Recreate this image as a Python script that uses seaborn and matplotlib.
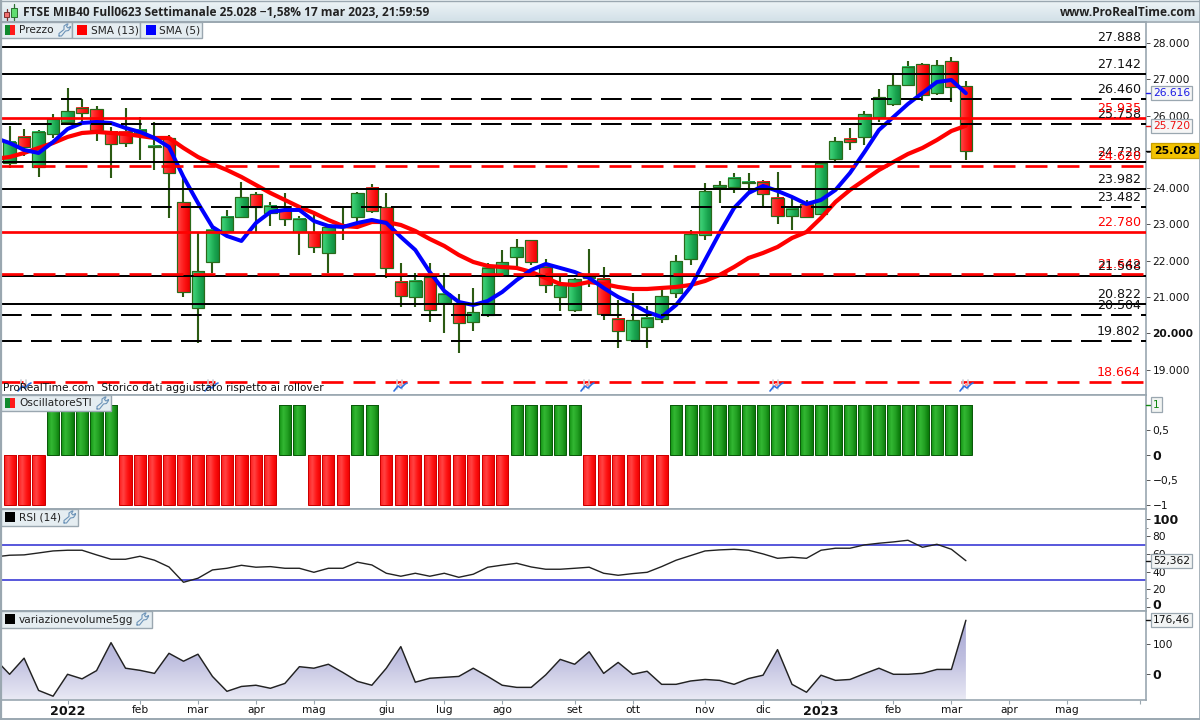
import numpy as np
import pandas as pd
import matplotlib
matplotlib.use("Agg")
import matplotlib.pyplot as plt
from matplotlib.colors import LinearSegmentedColormap as LSC
from matplotlib.transforms import ScaledTranslation
from matplotlib.patches import Rectangle
import seaborn as sns

# ---------------- data ----------------
open_ = [24694,25411,24584,25493,25824,26210,26182,25549,25549,25521,25135,25383,23620,20700,21967,22821,23207,23840,23317,23400,
         22793,22793,22215,22931,23207,24006,23482,21416,21003,21554,20838,20838,20314,20507,21609,22105,22573,21829,21003,20645,
         21526,21499,20397,19818,20176,20397,21113,22050,22711,24033,24033,24143,24171,23730,23234,23565,23289,24805,25356,25411,
         25962,26320,26843,27422,26623,27504,26816]
high = [25714,25631,25604,26044,26760,26458,26265,25686,26210,25962,25824,25466,24309,22766,23014,23400,24171,23895,23620,23868,
        23234,23262,22959,23482,23895,24116,23868,21939,21664,21939,21664,21086,21251,21939,22298,22600,22573,22050,21554,21526,
        22325,21829,20920,21113,20755,21196,22160,22849,24143,24199,24419,24419,24226,24446,23730,23675,24722,25411,25659,26127,
        26733,27119,27504,27449,27532,27615,26953]
low = [24557,24887,24309,25383,25824,25796,25300,24281,25135,24777,24501,23179,21003,19735,21664,22793,23179,22793,22959,22959,
       22160,22215,21664,22573,23069,23317,21526,20727,20727,20314,20011,19460,20066,20452,21554,21829,21884,21113,20617,20589,
       21278,20369,19598,19763,19598,20287,20975,21884,22573,23592,23868,23868,23482,23014,22849,23179,23262,24722,25053,25190,
       25824,26265,26816,26402,26568,26375,24777]
close = [25273,25135,25549,25907,26127,26072,25604,25218,25245,25604,25163,24419,21141,21719,22849,23207,23758,23482,23510,23152,
         23152,22380,22931,22959,23868,23372,21802,21030,21444,20645,21086,20287,20589,21802,21967,22380,21967,21333,21333,21499,
         21554,20534,20066,20369,20424,21030,21994,22738,23923,24088,24281,24171,23840,23234,23427,23207,24694,25300,25273,26044,
         26513,26843,27339,26568,27394,26788,25028]
sma5 = [25383,25245,25053,24970,25273,25631,25796,25824,25796,25659,25549,25383,25135,24309,23592,22931,22683,22546,23041,23344,
        23400,23400,23096,22959,22931,23041,23124,23041,22656,22298,21691,21168,20865,20782,20892,21141,21471,21747,21912,21802,
        21691,21526,21251,21003,20810,20589,20452,20782,21278,22022,22766,23455,23868,24061,23923,23758,23565,23675,23951,24419,
        24997,25604,25962,26320,26623,26926,26981,26616]
sma13 = [24805,24860,24970,25108,25245,25411,25521,25549,25521,25493,25438,25383,25383,25108,24860,24667,24501,24309,24088,23868,
         23675,23482,23317,23124,22959,22931,23069,23069,22986,22821,22600,22408,22160,21967,21857,21829,21802,21691,21526,21361,
         21333,21416,21361,21278,21223,21223,21251,21278,21333,21444,21609,21829,22077,22215,22380,22628,22793,23179,23620,23951,
         24226,24501,24722,24942,25108,25328,25576,25720]
sti = [-1,-1,-1,1,1,1,1,1,-1,-1,-1,-1,-1,-1,-1,-1,-1,-1,-1,1,1,-1,-1,-1,1,1,-1,-1,-1,-1,-1,-1,-1,-1,-1,
       1,1,1,1,1,-1,-1,-1,-1,-1,-1,1,1,1,1,1,1,1,1,1,1,1,1,1,1,1,1,1,1,1,1,1]
rsi = [56.7,58.6,59,61.2,63.5,64.3,64.3,59,54,54,57.4,52.9,45.2,27.7,32.3,41.8,43.7,47.1,44.9,45.6,43.7,43.7,39.1,43.7,43.7,
       50.6,47.5,38,34.6,38,34.6,38,33.4,36.9,44.9,47.3,49.4,45.2,42.6,42.6,43.7,44.9,38,35.7,37.6,39.1,45.6,52.9,58.2,63.5,
       64.7,65.4,64.3,60.1,55.1,56.3,55.1,64.3,66.6,66.6,70.4,72.3,73.8,75.7,67.7,71.1,65.4,52.36]
volume = [49,-1,52,-54,-73,-1,-16,11,103,19,12,2,68,42,65,-8,-57,-41,-37,-47,-31,24,19,32,5,-24,-37,19,90,-27,-14,-11,-8,19,-8,
          -37,-44,-44,-3,48,32,73,2,38,-1,9,-34,-34,-23,-18,-21,-34,-15,-4,80,-34,-60,-4,-21,-18,1,19,-1,-1,2,15,15,176.46]
solid_black = [27888,27142,24728,23982,21568,20822]
dashed_black = [26460,25758,23482,20504,19802]
solid_red = [25935,22780]
dashed_red = [24620,21642,18664]
price_ticks = [28000,27000,26000,25000,24000,23000,22000,21000,20000,19000]
price_tick_labels = ["28.000","27.000","26.000","25.000","24.000","23.000","22.000","21.000","20.000","19.000"]
month_weeks = [4,9,13,17,21,26,30,34,39,43,48,52,56,61,65,69,73,78]
month_labels = ["2022","feb","mar","apr","mag","giu","lug","ago","set","ott","nov","dic","2023","feb","mar","apr","mag",""]

weeks = np.arange(len(close))
line_weeks = np.arange(-1, len(close))

# ---------------- setup ----------------
sns.set_theme(style="white")
plt.rcParams["font.family"] = ["DejaVu Sans"]
plt.rcParams["lines.scale_dashes"] = False
plt.rcParams["axes.unicode_minus"] = False
W, H = 1200, 720
GRID = "#9aa7b0"
TXT = "#111111"
fig = plt.figure(figsize=(12, 7.2), dpi=100, facecolor="white")
PX = 72 / 100

def panel(x0, y0, x1, y1):
    ax = fig.add_axes([x0 / W, 1 - y1 / H, (x1 - x0) / W, (y1 - y0) / H])
    ax.set_facecolor("white")
    for s in ax.spines.values():
        s.set_color(GRID)
        s.set_linewidth(1.2)
    ax.spines["left"].set_visible(False)
    ax.yaxis.tick_right()
    ax.tick_params(axis="y", which="major", right=True, left=False, length=3, width=0.7, color="#555555",
                   labelsize=7.7, labelcolor=TXT, pad=1.6)
    ax.tick_params(axis="y", which="minor", right=True, left=False, length=1.6, width=0.6, color="#777777")
    ax.tick_params(axis="x", bottom=False, labelbottom=False)
    return ax

XLIM = (-0.5935, 78.43)
ax = panel(1, 22, 1146, 395)
ax_o = panel(1, 395, 1146, 509)
ax_r = panel(1, 509, 1146, 611)
ax_v = panel(1, 611, 1146, 700)

def hgrad(a, x0, x1, y0, y1, cmap, z):
    a.imshow(np.linspace(0, 1, 24)[None, :], extent=(x0, x1, y0, y1), aspect="auto", cmap=cmap,
             vmin=0, vmax=1, zorder=z, interpolation="bilinear")

cm_g = LSC.from_list("g", ["#45d47c", "#2fc268", "#1ba650", "#128f43"])
cm_r = LSC.from_list("r", ["#ff4a4a", "#ff2a2a", "#fb1010", "#e80000"])
cm_og = LSC.from_list("og", ["#129012", "#33b833", "#229f22", "#0a7a0a"])
cm_or = LSC.from_list("or", ["#ff1a1a", "#ff4444", "#ff1414", "#ee0000"])

# ---------------- price panel ----------------
ax.set_xlim(*XLIM)
ax.set_ylim(18302, 28578.6)
ax.set_autoscale_on(False)
WICK = "#2b5a12"
ax.vlines(weeks, low, high, color=WICK, linewidth=2.1 * PX, zorder=2)
for w, o, c in zip(weeks, open_, close):
    lo, hi = min(o, c), max(o, c)
    up = c >= o
    hgrad(ax, w - 0.43, w + 0.43, lo, hi, cm_g if up else cm_r, 3)
    ax.add_patch(Rectangle((w - 0.43, lo), 0.86, hi - lo, facecolor="none", edgecolor="#2a6a1a",
                           linewidth=1.2 * PX, zorder=4))
sns.lineplot(x=line_weeks, y=sma13, color="#ff0000", linewidth=4.2 * PX, ax=ax, estimator=None, sort=False, zorder=5)
sns.lineplot(x=line_weeks, y=sma5, color="#0000ff", linewidth=4 * PX, ax=ax, estimator=None, sort=False, zorder=5.5)
ax.set_xlim(*XLIM)
ax.set_ylim(18302, 28578.6)
ax.set_xlabel("")
ax.set_ylabel("")

for v in solid_black:
    ax.axhline(v, color="black", linewidth=2 * PX, zorder=6)
for v in dashed_black:
    ax.axhline(v, color="black", linewidth=2 * PX, zorder=6, dashes=(20.7 * PX, 9.3 * PX))
for v in solid_red:
    ax.axhline(v, color="#ff0000", linewidth=2.7 * PX, zorder=6.2)
for v in dashed_red:
    ax.axhline(v, color="#ff0000", linewidth=2.7 * PX, zorder=6.2, dashes=(22 * PX, 10 * PX))

def level_label(v, color, dy=9.5, z=7):
    s = f"{v:,}".replace(",", ".")
    ax.annotate(s, xy=(1, v), xycoords=ax.get_yaxis_transform(), xytext=(-5 * PX, dy * PX),
                textcoords="offset points", ha="right", va="center", fontsize=9.05, color=color,
                zorder=z, annotation_clip=False)

for v in solid_black + dashed_black:
    level_label(v, "#111111", z=7.2 if v in (21568,) else 7)
for v in solid_red + dashed_red:
    level_label(v, "#ff0000", z=7.1 if v != 21642 else 6.9)

ax.set_yticks(price_ticks)
ax.set_yticklabels(price_tick_labels)
for lab, v in zip(ax.get_yticklabels(), price_ticks):
    if v == 20000:
        lab.set_fontweight("bold")

def value_box(a, v, txt, color, face, edge, weight="normal", size=7.7, off=7, tick=None, pad=0.2):
    if tick is not None:
        a.plot([1, 1 + 5 / 1145], [v, v], transform=a.get_yaxis_transform(), color=tick, lw=1, clip_on=False, zorder=19)
    a.annotate(txt, xy=(1, v), xycoords=a.get_yaxis_transform(), xytext=(off * PX, 0),
               textcoords="offset points", ha="left", va="center", fontsize=size, color=color,
               fontweight=weight, annotation_clip=False, zorder=20,
               bbox=dict(boxstyle=f"square,pad={pad}", facecolor=face, edgecolor=edge, linewidth=0.9))

value_box(ax, sma5[-1], "26.616", "#1a1ae6", "#f6f6f6", "#9aa7b0", tick="#1a1ae6")
value_box(ax, sma13[-1], "25.720", "#ee1111", "#f6f6f6", "#9aa7b0", tick="#ee1111")
value_box(ax, close[-1], "25.028", "black", "#f2c200", "#c9a000", weight="bold", size=7.85, off=8, tick="black", pad=0.24)

# ---------------- oscillator ----------------
df_o = pd.DataFrame({"week": weeks, "sti": sti, "dir": ["up" if s > 0 else "down" for s in sti]})
sns.barplot(data=df_o, x="week", y="sti", hue="dir", palette={"up": "#1a9a1a", "down": "#ff2020"},
            native_scale=True, dodge=False, width=0.84, legend=False, ax=ax_o, linewidth=1.0 * PX)
ax_o.set_xlim(*XLIM)
ax_o.set_ylim(-1.09, 1.19)
ax_o.set_autoscale_on(False)
ax_o.set_xlabel("")
ax_o.set_ylabel("")
for p in list(ax_o.patches):
    if p.get_width() == 0 or p.get_height() == 0:
        continue
    x0, y0, w_, h_ = p.get_x(), p.get_y(), p.get_width(), p.get_height()
    up = (y0 + h_ / 2) > 0
    hgrad(ax_o, x0, x0 + w_, min(y0, y0 + h_), max(y0, y0 + h_), cm_og if up else cm_or, 2)
    p.set_facecolor("none")
    p.set_edgecolor("#0a5a0a" if up else "#cc0000")
    p.set_zorder(3)
ax_o.set_yticks([1, 0.5, 0, -0.5, -1])
ax_o.set_yticklabels(["", "0,5", "0", "\u22120,5", "\u22121"])
ax_o.get_yticklabels()[2].set_fontweight("bold")
ax_o.get_yticklabels()[2].set_fontsize(9)
value_box(ax_o, 1, "1", "#118811", "#f2f4f2", "#9aa7b0", tick="#118811")

# ---------------- RSI ----------------
sns.lineplot(x=line_weeks, y=rsi, color="#222222", linewidth=1.0, ax=ax_r, estimator=None, sort=False)
ax_r.axhline(70, color="#2a2ad2", linewidth=1.1, zorder=1)
ax_r.axhline(30, color="#2a2ad2", linewidth=1.1, zorder=1)
ax_r.set_xlim(*XLIM)
ax_r.set_ylim(-5.1, 111.4)
ax_r.set_xlabel("")
ax_r.set_ylabel("")
ax_r.set_yticks([100, 80, 60, 40, 20, 0])
ax_r.set_yticks([90, 10], minor=True)
ax_r.set_yticklabels(["100", "80", "60", "40", "20", "0"])
labs = ax_r.get_yticklabels()
for i in (0, 5):
    labs[i].set_fontweight("bold")
    labs[i].set_fontsize(9)
labs[5].set_transform(labs[5].get_transform() + ScaledTranslation(0, 3 / 100, fig.dpi_scale_trans))
value_box(ax_r, rsi[-1], "52,362", "#111111", "#f2f4f4", "#9aa7b0", tick="#111111")

# ---------------- volume ----------------
YV = (-85.5, 207)
sns.lineplot(x=line_weeks, y=volume, color="#222222", linewidth=1.05, ax=ax_v, estimator=None, sort=False, zorder=4)
ax_v.set_xlim(*XLIM)
ax_v.set_ylim(*YV)
ax_v.set_autoscale_on(False)
ax_v.set_xlabel("")
ax_v.set_ylabel("")
poly = ax_v.fill_between(line_weeks, volume, YV[0], color="none", linewidth=0)
cm_v = LSC.from_list("v", ["#a6a6d4", "#c0c0e0", "#e9e9f4"])
im = ax_v.imshow(np.linspace(0, 1, 64)[:, None], extent=(XLIM[0], 66, YV[0], 176.46), aspect="auto",
                 cmap=cm_v, vmin=0, vmax=1, zorder=2, interpolation="bilinear", origin="upper")
im.set_clip_path(poly.get_paths()[0], transform=ax_v.transData)
ax_v.set_yticks([100, 0])
ax_v.set_yticklabels(["100", "0"])
ax_v.get_yticklabels()[1].set_fontweight("bold")
ax_v.get_yticklabels()[1].set_fontsize(9)
value_box(ax_v, volume[-1], "176,46", "#111111", "#f2f4f4", "#9aa7b0", tick="#111111")
ax_v.set_xticks(month_weeks)
ax_v.set_xticklabels(month_labels)
ax_v.tick_params(axis="x", bottom=True, labelbottom=True, length=2.6, width=0.8, color=GRID,
                 labelsize=7.7, labelcolor=TXT, pad=0.9)
for lab, t in zip(ax_v.get_xticklabels(), month_labels):
    if t in ("2022", "2023"):
        lab.set_fontweight("bold")
        lab.set_fontsize(9.2)

# ---------------- chrome (pixel overlay) ----------------
ov = fig.add_axes([0, 0, 1, 1], zorder=10)
ov.set_xlim(0, W)
ov.set_ylim(H, 0)
ov.axis("off")
ov.patch.set_visible(False)
ov.set_autoscale_on(False)
cm_h = LSC.from_list("h", ["#eef4f7", "#d3e1e8"])
ov.imshow(np.linspace(0, 1, 32)[:, None], extent=(0, W, 21, 0), aspect="auto", cmap=cm_h, vmin=0, vmax=1,
          zorder=1, interpolation="bilinear", origin="upper")
ov.plot([0, W], [21.5, 21.5], color=GRID, lw=1.2, zorder=2)
ov.plot([1, 1], [0, 719], color=GRID, lw=1.6, zorder=2)
ov.plot([1199.5, 1199.5], [0, 720], color=GRID, lw=1.2, zorder=2)
ov.plot([0, W], [719, 719], color=GRID, lw=1.4, zorder=2)
ov.plot([0, W], [0.5, 0.5], color=GRID, lw=1, zorder=2)

ov.text(23, 12, "FTSE MIB40 Full0623 Settimanale 25.028 \u22121,58% 17 mar 2023, 21:59:59", fontsize=8.6,
        fontweight="bold", family="Open Sans", color="#222222", va="center", ha="left", zorder=3)
ov.text(1196, 12, "www.ProRealTime.com", fontsize=8.6, fontweight="bold", family="Open Sans", color="#222222",
        va="center", ha="right", zorder=3)

def candle_icon(x, y0, y1, wy0, wy1, w, col, edge):
    ov.plot([x, x], [wy0, wy1], color=edge, lw=0.9, zorder=3)
    ov.add_patch(Rectangle((x - w / 2, y0), w, y1 - y0, facecolor=col, edgecolor=edge, lw=0.7, zorder=4))

candle_icon(6.5, 12, 17, 9, 19.5, 5.5, "#f07070", "#7a3030")
candle_icon(14, 8, 17, 4, 20, 6, "#5fdc70", "#2a7030")

def wrench(x, y):
    pts = [(0, 12), (0, 9.5), (5, 5.5), (5, 2), (8, 0), (9, 0), (7.5, 2.5), (9, 4), (11.5, 2.5), (11.5, 3.5),
           (9.5, 6.5), (6.5, 7), (2.5, 12), (0, 12)]
    ov.plot([x + p[0] for p in pts], [y + p[1] for p in pts], color="#6d94b8", lw=0.8, zorder=5)

def button(x0, x1, y0, y1, label, swatch, sx0, tx, wx=None):
    ov.add_patch(Rectangle((x0, y0), x1 - x0, y1 - y0, facecolor="#e5edf1", edgecolor=GRID, lw=1, zorder=3))
    sy0 = y0 + 3
    if len(swatch) == 2:
        ov.add_patch(Rectangle((sx0, sy0), 5, 10, facecolor=swatch[0], lw=0, zorder=4))
        ov.add_patch(Rectangle((sx0 + 5, sy0), 5, 10, facecolor=swatch[1], lw=0, zorder=4))
    else:
        ov.add_patch(Rectangle((sx0, sy0), 10, 10, facecolor=swatch[0], lw=0, zorder=4))
    ov.text(tx, (y0 + y1) / 2 + 0.2, label, fontsize=7.55, color="#222222", va="center", ha="left", zorder=5)
    if wx is not None:
        wrench(wx, y0 + 2)

button(1, 72, 22, 38, "Prezzo", ["#118a2e", "#ff1a1a"], 5, 19, 59)
button(72, 140, 22, 38, "SMA (13)", ["#ff0000"], 77, 91)
button(140, 202, 22, 38, "SMA (5)", ["#0000ff"], 146, 159)
button(1, 111, 395, 411, "OscillatoreSTI", ["#118a2e", "#ff1a1a"], 5, 19, 97)
button(1, 78, 509, 526, "RSI (14)", ["#000000"], 5, 19, 64)
button(1, 152, 611, 628, "variazionevolume5gg", ["#000000"], 5, 19, 137)

def marker(x):
    for gx in (x - 4, x + 1):
        ov.plot([gx, gx], [380, 389], color="#c9ced4", lw=1.2, zorder=3)
    ov.add_patch(Rectangle((x - 2, 383), 3, 3, facecolor="#ff9a9a", lw=0, zorder=3))
    ov.plot([x - 7, x - 3, x, x + 4, x + 6], [391, 386, 388, 384, 383], color="#2f6fe0", lw=1.2, zorder=4)

for mx in (25, 212, 401, 588, 777, 967):
    marker(mx)
ov.text(3, 388, "ProRealTime.com  Storico dati aggiustato rispetto ai rollover", fontsize=7.55, color="#111111",
        va="center", ha="left", zorder=6)

fig.savefig("out.png", dpi=100, facecolor="white")
